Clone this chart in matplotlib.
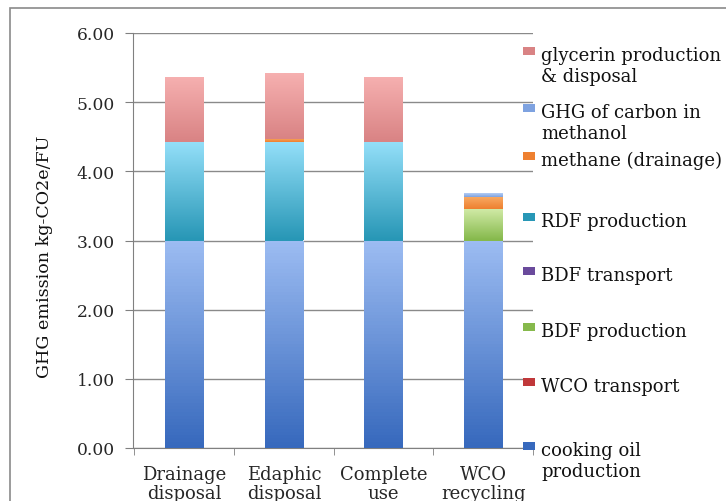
import numpy as np
import matplotlib
matplotlib.use('Agg')
import matplotlib.pyplot as plt
from matplotlib.patches import Rectangle
from matplotlib.colors import LinearSegmentedColormap

# Data (kg-CO2e/FU)
categories = ['Drainage\ndisposal', 'Edaphic\ndisposal', 'Complete\nuse', 'WCO\nrecycling']
cooking_oil = [3.00, 3.00, 3.00, 3.00]
wco_transport = [0.00, 0.00, 0.00, 0.00]
bdf_production = [0.00, 0.00, 0.00, 0.46]
bdf_transport = [0.00, 0.00, 0.00, 0.00]
rdf_production = [1.42, 1.42, 1.42, 0.00]
methane = [0.00, 0.05, 0.00, 0.17]
ghg_methanol = [0.00, 0.00, 0.00, 0.05]
glycerin = [0.95, 0.95, 0.95, 0.00]

series = [
    ('cooking oil\nproduction', cooking_oil, ('#9cbcf2', '#3769bd')),
    ('WCO transport', wco_transport, ('#f08080', '#c0383a')),
    ('BDF production', bdf_production, ('#d2eba8', '#86b94c')),
    ('BDF transport', bdf_transport, ('#a98ad0', '#6a4a9c')),
    ('RDF production', rdf_production, ('#94dff9', '#2897b6')),
    ('methane (drainage)', methane, ('#f8a860', '#ee8030')),
    ('GHG of carbon in\nmethanol', ghg_methanol, ('#b4cdf5', '#7ea2e0')),
    ('glycerin production\n& disposal', glycerin, ('#f6b0b0', '#d98384')),
]

plt.rcParams['font.family'] = ['DejaVu Serif']
txt_color = '#262626'
W, H = 726, 502

fig = plt.figure(figsize=(W / 100, H / 100), dpi=100)
ax = fig.add_axes([133 / W, 1 - 449 / H, 400 / W, 415 / H])

x = np.arange(len(categories))
bottom = np.zeros(len(categories))
for label, vals, (c_top, c_bot) in series:
    vals = np.array(vals)
    bars = ax.bar(x, vals, width=0.39, bottom=bottom, color=c_bot,
                  linewidth=0, zorder=2)
    # vertical gradient fill, clipped to each bar segment
    cmap = LinearSegmentedColormap.from_list(label, [c_bot, c_top])
    grad = np.linspace(0, 1, 64).reshape(-1, 1)
    for b, v in zip(bars, vals):
        if v <= 0:
            continue
        x0, y0 = b.get_x(), b.get_y()
        im = ax.imshow(grad, cmap=cmap, aspect='auto', origin='lower',
                       extent=(x0, x0 + b.get_width(), y0, y0 + b.get_height()),
                       zorder=3)
        im.set_clip_path(b)
    bottom += vals

ax.set_xlim(-0.515, 3.485)
ax.set_ylim(0, 6)
ax.set_yticks(np.arange(0, 7, 1))
ax.set_yticklabels(['%.2f' % v for v in np.arange(0, 7, 1)], fontsize=12.3,
                   color=txt_color)
ax.set_xticks(x)
ax.set_xticklabels(categories, fontsize=13, color=txt_color, linespacing=1.1)
ax.tick_params(axis='x', length=0, pad=12)
ax.tick_params(axis='y', length=6, color='#808080', pad=7)
# category separator ticks
ax.set_xticks(np.arange(-0.5, 3.6, 1), minor=True)
ax.tick_params(axis='x', which='minor', length=5, color='#808080', direction='out')
ax.yaxis.grid(True, color='#8a8a8a', linewidth=1)
ax.set_axisbelow(True)
for s in ['top', 'right']:
    ax.spines[s].set_visible(False)
for s in ['left', 'bottom']:
    ax.spines[s].set_color('#808080')
ax.set_ylabel('GHG emission kg-CO2e/FU', fontsize=12.6, color='#111111')
ax.yaxis.set_label_coords(-0.2, 0.463)

# legend drawn entry by entry (Excel-like layout, marker next to first line)
leg_y = [52, 109, 157, 218, 272, 328, 383, 447]
for (label, vals, (c_top, c_bot)), yy in zip(series[::-1], leg_y):
    fig.add_artist(Rectangle((523 / W, 1 - (yy + 4) / H), 12 / W, 8 / H,
                             transform=fig.transFigure, facecolor=c_bot,
                             edgecolor='none'))
    for i, line in enumerate(label.split('\n')):
        fig.text(541 / W, 1 - (yy + 9 + 21 * i) / H, line, fontsize=13,
                 color='#111111', va='baseline', ha='left')

# outer chart border
fig.add_artist(Rectangle((10 / W, -0.1), 1.2, 1 - 9 / H + 0.1,
                         transform=fig.transFigure, fill=False,
                         edgecolor='#8a8a8a', linewidth=1.2))

fig.savefig('out.png', dpi=100)
